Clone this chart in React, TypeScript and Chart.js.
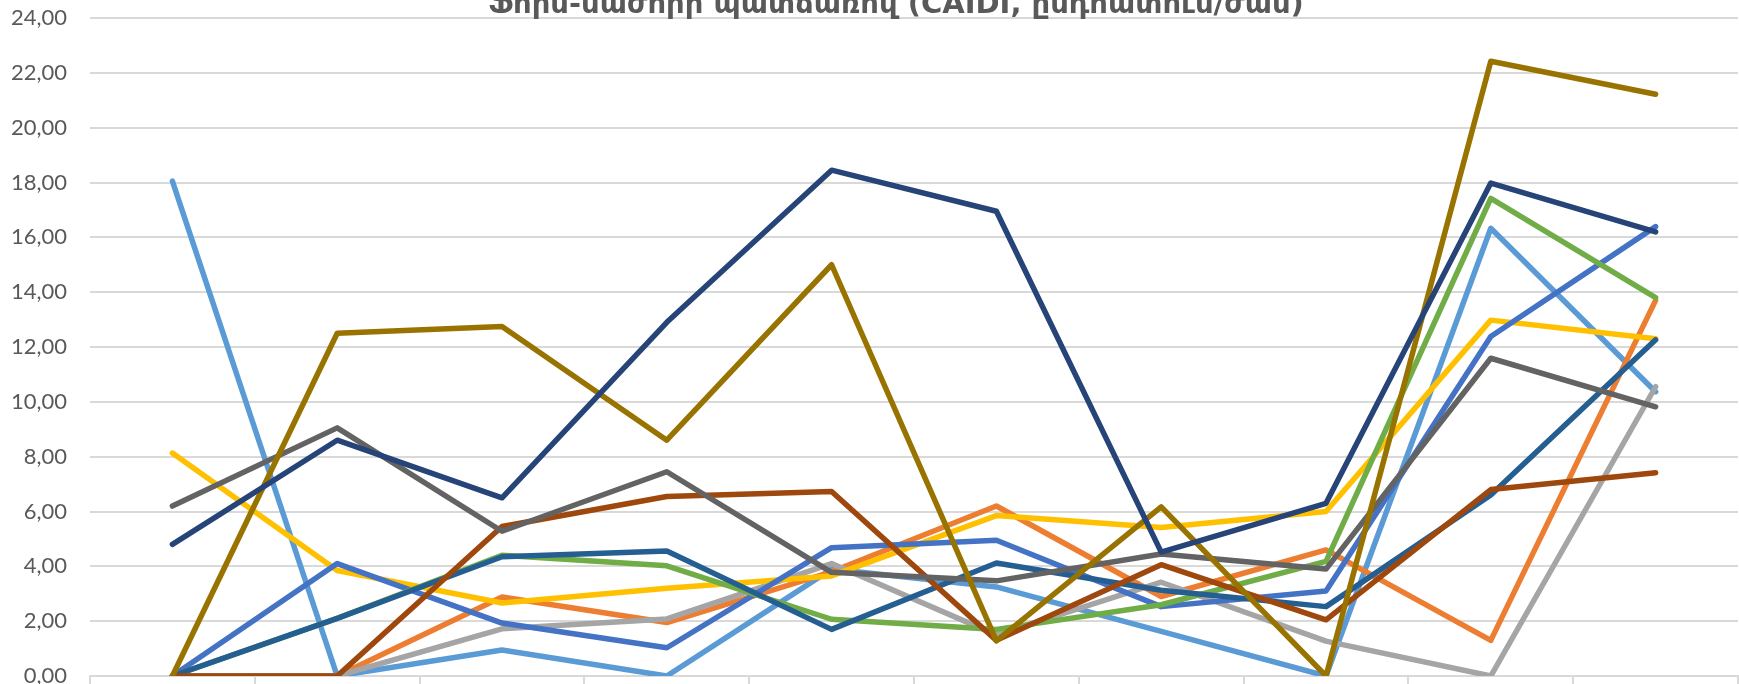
import React, { useEffect, useRef } from "react";
import { Chart, registerables } from "chart.js";

Chart.register(...registerables);

const TITLE = "Ֆորս-մաժորի պատճառով (CAIDI, ընդհատում/ժամ)";

const categories = ["1", "2", "3", "4", "5", "6", "7", "8", "9", "10"];

const seriesNames = [
  "Շարք 1", "Շարք 2", "Շարք 3", "Շարք 4", "Շարք 5", "Շարք 6",
  "Շարք 7", "Շարք 8", "Շարք 9", "Շարք 10", "Շարք 11",
];

const series1 = [18.05, 0, 0.95, 0, 3.9, 3.25, 1.63, 0, 16.33, 10.37];
const series2 = [0, 0, 2.88, 1.95, 3.8, 6.2, 2.9, 4.6, 1.3, 13.7];
const series3 = [0, 0, 1.72, 2.08, 4.1, 1.5, 3.42, 1.27, 0, 10.55];
const series4 = [8.13, 3.85, 2.66, 3.2, 3.65, 5.85, 5.42, 6.0, 12.98, 12.3];
const series5 = [0, 4.1, 1.93, 1.03, 4.68, 4.95, 2.53, 3.1, 12.38, 16.39];
const series6 = [0, 2.1, 4.4, 4.02, 2.07, 1.7, 2.6, 4.18, 17.42, 13.8];
const series7 = [0, 2.1, 4.35, 4.56, 1.7, 4.12, 3.13, 2.53, 6.6, 12.26];
const series8 = [0, 0, 5.45, 6.55, 6.73, 1.3, 4.06, 2.05, 6.8, 7.41];
const series9 = [6.2, 9.05, 5.28, 7.45, 3.78, 3.47, 4.45, 3.9, 11.59, 9.82];
const series10 = [0, 12.5, 12.75, 8.6, 15.0, 1.28, 6.17, 0, 22.42, 21.22];
const series11 = [4.8, 8.6, 6.5, 12.9, 18.45, 16.95, 4.52, 6.3, 17.98, 16.2];

const allSeries = [
  series1, series2, series3, series4, series5, series6,
  series7, series8, series9, series10, series11,
];

const colors = [
  "#5B9BD5", "#ED7D31", "#A5A5A5", "#FFC000", "#4472C4", "#70AD47",
  "#255E91", "#9E480E", "#636363", "#997300", "#264478",
];

const yTicks = { min: 0, max: 24, step: 2 };

const W = 1739;
const H = 684;
const CANVAS_H = 700;

const titlePlugin = {
  id: "cutTitle",
  afterDraw(chart: any) {
    const ctx = chart.ctx;
    ctx.save();
    const base = 30;
    ctx.font = `bold ${base}px "DejaVu Sans", sans-serif`;
    const w = ctx.measureText(TITLE).width;
    const size = (base * 816) / w;
    ctx.font = `bold ${size}px "DejaVu Sans", sans-serif`;
    ctx.fillStyle = "#595959";
    ctx.textAlign = "center";
    ctx.textBaseline = "alphabetic";
    ctx.fillText(TITLE, 896, 13);
    ctx.restore();
  },
};

export default function App() {
  const ref = useRef<HTMLCanvasElement | null>(null);

  useEffect(() => {
    if (!ref.current) return;
    const n = allSeries.length;
    const chart = new Chart(ref.current, {
      type: "line",
      data: {
        labels: categories,
        datasets: allSeries.map((d, i) => ({
          label: seriesNames[i],
          data: d,
          borderColor: colors[i],
          backgroundColor: colors[i],
          borderWidth: 5.5,
          pointRadius: 0,
          tension: 0,
          fill: false,
          borderCapStyle: "round" as const,
          borderJoinStyle: "round" as const,
          order: n - i,
        })),
      },
      options: {
        animation: false,
        responsive: false,
        devicePixelRatio: 1,
        layout: { padding: { top: 18, right: 1, left: 0, bottom: 0 } },
        plugins: {
          legend: { display: false },
          title: { display: false },
          tooltip: { enabled: false },
        },
        scales: {
          x: {
            offset: true,
            grid: {
              offset: true,
              drawOnChartArea: false,
              drawTicks: true,
              tickLength: 10,
              color: "#d9d9d9",
              lineWidth: 2,
            },
            border: { display: true, color: "#d9d9d9", width: 2 },
            ticks: { display: false },
            afterFit(scale: any) {
              scale.height = CANVAS_H - 676;
            },
          },
          y: {
            min: yTicks.min,
            max: yTicks.max,
            grid: {
              color: "#d9d9d9",
              lineWidth: 2,
              drawTicks: true,
              tickLength: 21,
              tickColor: "rgba(0,0,0,0)",
            },
            border: { display: false },
            ticks: {
              stepSize: yTicks.step,
              padding: 2,
              color: "#595959",
              font: { family: "Lato, 'Open Sans', sans-serif", size: 22, lineHeight: 1.0 },
              callback: (v: any) => Number(v).toFixed(2).replace(".", ","),
            },
            afterFit(scale: any) {
              scale.width = 90;
            },
          },
        },
      },
      plugins: [titlePlugin],
    });
    return () => chart.destroy();
  }, []);

  return (
    <div
      style={{
        position: "fixed",
        left: 0,
        top: 0,
        width: W,
        height: H,
        overflow: "hidden",
        background: "#ffffff",
      }}
    >
      <canvas ref={ref} width={W} height={CANVAS_H} style={{ display: "block" }} />
    </div>
  );
}
